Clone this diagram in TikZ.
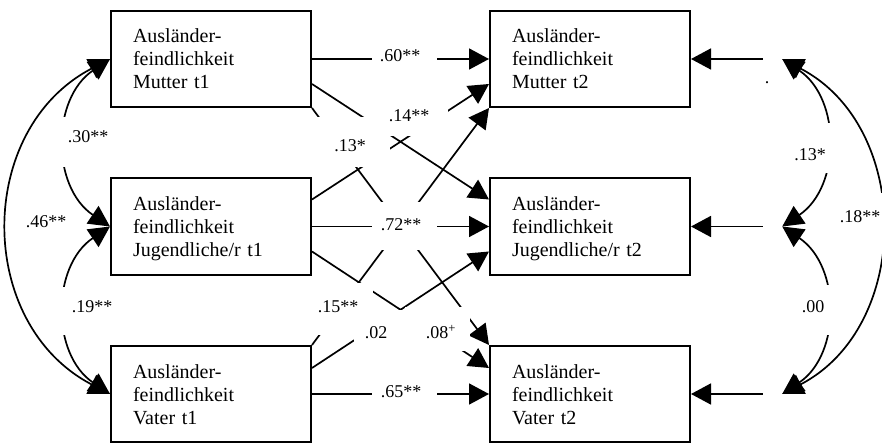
\documentclass[tikz,border=0pt]{standalone}
\usepackage{fontspec}
\setmainfont{Liberation Serif}
\usetikzlibrary{arrows.meta,calc}
\begin{document}
\begin{tikzpicture}[x=1pt,y=1pt,
  var/.style={draw, line width=2pt, minimum height=96pt, text width=156pt,
    inner xsep=22pt, inner ysep=0pt, align=left,
    font=\fontsize{20}{23}\selectfont,
    execute at begin node={\rule{0pt}{21pt}},
    execute at end node={\rule[-7pt]{0pt}{7pt}}},
  arr/.style={line width=1.7pt, -{Triangle[length=20pt,width=21pt]}},
  cov/.style={line width=1.7pt, {Triangle[length=21pt,width=21pt]}-{Triangle[length=21pt,width=21pt]}},
  gapbox/.style={fill=white, inner sep=0pt},
  lbl/.style={font=\fontsize{18}{20}\selectfont, inner sep=0pt},
  err/.style={inner sep=0pt, minimum width=19pt, minimum height=2pt}
]
\useasboundingbox (0,0) rectangle (882,-443);

% boxes
\node[var] (M1) at (211,-59)    {Ausländer-\\feindlichkeit\\Mutter t1};
\node[var] (J1) at (211,-226.5) {Ausländer-\\feindlichkeit\\Jugendliche/r t1};
\node[var] (V1) at (211,-394)   {Ausländer-\\feindlichkeit\\Vater t1};
\node[var] (M2) at (590,-59)    {Ausländer-\\feindlichkeit\\Mutter t2};
\node[var] (J2) at (590,-226.5) {Ausländer-\\feindlichkeit\\Jugendliche/r t2};
\node[var] (V2) at (590,-394)   {Ausländer-\\feindlichkeit\\Vater t2};

% invisible error terms
\node[err] (e1) at (772.5,-59) {};
\node[err] (e2) at (772.5,-226.5) {};
\node[err] (e3) at (772.5,-394) {};

% attachment points
\coordinate (M1lo) at ($(M1.south east)+(0,24)$);
\coordinate (J1up) at ($(J1.north east)+(0,-22)$);
\coordinate (J1lo) at ($(J1.south east)+(0,24)$);
\coordinate (V1up) at ($(V1.north east)+(0,-23)$);
\coordinate (M2lo) at ($(M2.south west)+(0,24)$);
\coordinate (J2up) at ($(J2.north west)+(0,-22)$);
\coordinate (J2lo) at ($(J2.south west)+(0,24)$);
\coordinate (V2up) at ($(V2.north west)+(0,-23)$);

% paths
\draw[arr] (M1.east) -- (M2.west);
\draw[arr] (J1.east) -- (J2.west);
\draw[arr] (V1.east) -- (V2.west);
\draw[arr] (M1lo) -- (J2up);
\draw[arr] (M1.south east) -- (V2.north west);
\draw[arr] (J1up) -- (M2lo);
\draw[arr] (J1lo) -- (V2up);
\draw[arr] (V1.north east) -- (M2.south west);
\draw[arr] (V1up) -- (J2lo);

% residual paths
\draw[arr] (e1.west) -- (M2.east);
\draw[arr] (e2.west) -- (J2.east);
\draw[arr] (e3.west) -- (V2.east);

% covariances
\draw[cov] (M1.west) to[out=207.5,in=152.5,distance=152pt] (V1.west);
\draw[cov] (M1.west) to[out=214,in=146,distance=71pt] (J1.west);
\draw[cov] (J1.west) to[out=214,in=146,distance=71pt] (V1.west);
\draw[cov] (e1.east) to[out=-34,in=34,distance=71pt] (e2.east);
\draw[cov] (e2.east) to[out=-34,in=34,distance=71pt] (e3.east);
\draw[cov] (e1.east) to[out=-27.5,in=27.5,distance=147pt] (e3.east);

% label backgrounds
\node[gapbox, minimum width=65pt, minimum height=40pt] (g60) at (404.5,-59) {};
\node[gapbox, minimum width=65pt, minimum height=48pt] (g72) at (404.5,-226.5) {};
\node[gapbox, minimum width=65pt, minimum height=40pt] (g65) at (404.5,-394) {};
\node[gapbox, minimum width=78pt, minimum height=42pt] (g14) at (409,-115) {};
\node[gapbox, minimum width=79pt, minimum height=50pt] (g13) at (350.5,-142) {};
\node[gapbox, minimum width=68pt, minimum height=52pt] (g15) at (339,-309) {};
\node[gapbox, minimum width=51pt, minimum height=48pt] (g02) at (379.5,-334) {};
\node[gapbox, minimum width=65pt, minimum height=44pt] (g08) at (437.5,-329) {};
\node[gapbox, minimum width=58pt, minimum height=50pt] (g30) at (89,-142) {};
\node[gapbox, minimum width=58pt, minimum height=48pt] (g19) at (89,-311) {};
\node[gapbox, minimum width=40pt, minimum height=50pt] (gr13) at (815,-148) {};
\node[gapbox, minimum width=40pt, minimum height=50pt] (gr00) at (815,-310) {};
\node[gapbox, minimum width=50pt, minimum height=50pt] (gr18) at (860,-218) {};

% labels
\node[lbl] (l60) at (400,-56)  {.60**};
\node[lbl] (l72) at (401,-225) {.72**};
\node[lbl] (l65) at (401,-392) {.65**};
\node[lbl] (l14) at (409,-116) {.14**};
\node[lbl] (l13) at (350,-146) {.13*};
\node[lbl] (l15) at (338,-307) {.15**};
\node[lbl] (l02) at (376,-333) {.02};
\node[lbl] (l08) at (441,-332) {.08\textsuperscript{+}};
\node[lbl] (l30) at (88,-137)  {.30**};
\node[lbl] (l46) at (46,-222)  {.46**};
\node[lbl] (l19) at (92,-307)  {.19**};
\node[lbl] (lr13) at (810,-155) {.13*};
\node[lbl] (lr00) at (813,-307) {.00};
\node[lbl] (lr18) at (860,-217) {.18**};
\node[lbl] (dot) at (767,-83) {.};
\end{tikzpicture}
\end{document}
